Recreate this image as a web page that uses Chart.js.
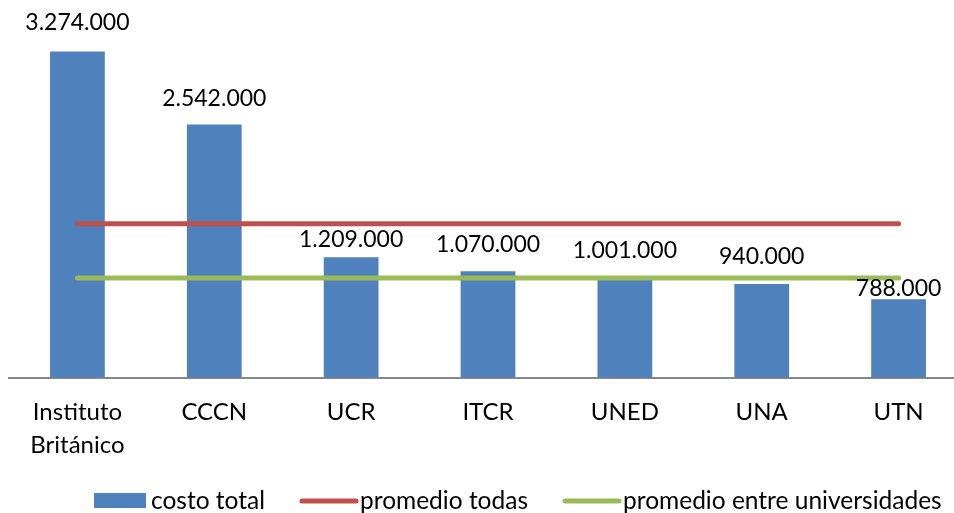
<!DOCTYPE html>
<html>
<head>
<meta charset="utf-8">
<script src="https://cdn.jsdelivr.net/npm/chart.js@4.4.0/dist/chart.umd.min.js"></script>
<style>
html, body { margin: 0; padding: 0; overflow: hidden; background: #fff; }
#contenedor { width: 968px; height: 513px; position: relative; }
</style>
</head>
<body>
<div id="contenedor"><canvas id="grafico"></canvas></div>
<script>
// datos
const categorias = [["Instituto", "Británico"], "CCCN", "UCR", "ITCR", "UNED", "UNA", "UTN"];
const costoTotal = [3274000, 2542000, 1209000, 1070000, 1001000, 940000, 788000];
const promedioTodas = [1546286, 1546286, 1546286, 1546286, 1546286, 1546286, 1546286];
const promedioUniversidades = [1001600, 1001600, 1001600, 1001600, 1001600, 1001600, 1001600];
const nombresSeries = ["costo total", "promedio todas", "promedio entre universidades"];

const fuente = "Lato, 'Open Sans', sans-serif";

function formatoMiles(n) {
    return String(n).replace(/\B(?=(\d{3})+(?!\d))/g, ".");
}

// etiquetas encima de las barras
const etiquetasBarras = {
    id: 'etiquetasBarras',
    afterDatasetsDraw(chart, args, opts) {
        const ctx = chart.ctx;
        const meta = chart.getDatasetMeta(0);
        ctx.save();
        ctx.font = "23px " + fuente;
        ctx.fillStyle = "#000";
        ctx.textAlign = "center";
        ctx.textBaseline = "middle";
        meta.data.forEach(function (bar, i) {
            const sep = opts.separacion[i];
            ctx.fillText(formatoMiles(chart.data.datasets[0].data[i]), bar.x, bar.y - sep);
        });
        ctx.restore();
    }
};

// leyenda dibujada a mano (la barra y las lineas tienen muestras distintas)
const leyenda = {
    id: 'leyenda',
    afterDraw(chart, args, opts) {
        const ctx = chart.ctx;
        ctx.save();
        ctx.font = "24.5px " + fuente;
        ctx.textBaseline = "middle";
        let x = opts.x;
        const y = opts.y;
        chart.data.datasets.forEach(function (ds, i) {
            if (ds.type === 'line') {
                ctx.strokeStyle = ds.borderColor;
                ctx.lineWidth = 5;
                ctx.lineCap = 'round';
                ctx.beginPath();
                ctx.moveTo(x + 3, y);
                ctx.lineTo(x + 57, y);
                ctx.stroke();
                x += 61;
            } else {
                ctx.fillStyle = ds.backgroundColor;
                ctx.fillRect(x, y - 8, 52, 15);
                x += 57;
            }
            ctx.fillStyle = "#000";
            ctx.fillText(ds.label, x, y);
            x += ctx.measureText(ds.label).width + 34;
        });
        ctx.restore();
    }
};

const ctx = document.getElementById('grafico');
new Chart(ctx, {
    type: 'bar',
    data: {
        labels: categorias,
        datasets: [{
            label: nombresSeries[0],
            data: costoTotal,
            backgroundColor: '#4F81BD',
            barPercentage: 0.8,
            categoryPercentage: 0.5,
            order: 3
        }, {
            type: 'line',
            label: nombresSeries[1],
            data: promedioTodas,
            borderColor: '#C0504D',
            borderWidth: 5,
            borderCapStyle: 'round',
            pointRadius: 0,
            order: 1
        }, {
            type: 'line',
            label: nombresSeries[2],
            data: promedioUniversidades,
            borderColor: '#9BBB59',
            borderWidth: 5,
            borderCapStyle: 'round',
            pointRadius: 0,
            order: 2
        }]
    },
    options: {
        responsive: true,
        maintainAspectRatio: false,
        animation: false,
        layout: { padding: { top: 29, left: 9, right: 1, bottom: 33 } },
        scales: {
            y: { display: false, min: 0, max: 3500000 },
            x: {
                grid: { color: 'rgba(0,0,0,0)', drawTicks: false },
                border: { color: '#868686', width: 2 },
                ticks: {
                    color: '#000',
                    padding: 18,
                    font: { family: fuente, size: 24, lineHeight: 1.38 }
                }
            }
        },
        plugins: {
            legend: { display: false },
            tooltip: { enabled: false },
            etiquetasBarras: { separacion: [29, 26, 18, 27, 27, 28, 11] },
            leyenda: { x: 94, y: 501 }
        }
    },
    plugins: [etiquetasBarras, leyenda]
});
</script>
</body>
</html>
